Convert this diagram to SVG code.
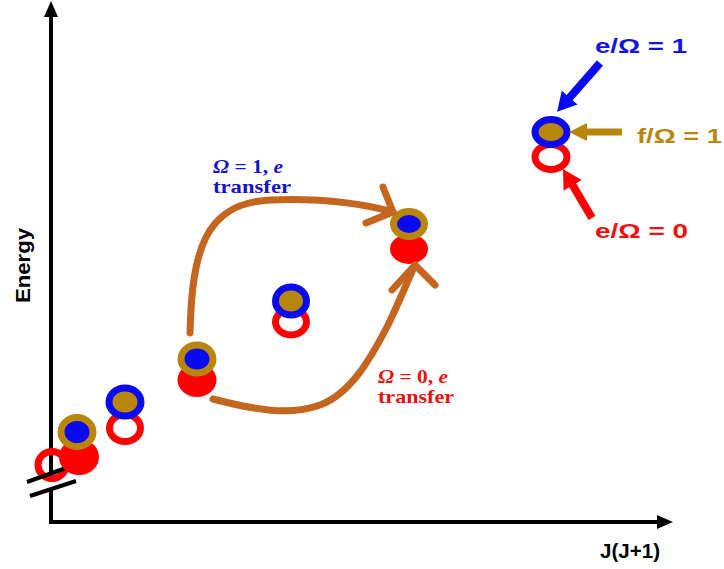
<svg xmlns="http://www.w3.org/2000/svg" width="724" height="569" viewBox="0 0 724 569">
<style>
.ax{stroke:#000;stroke-width:4;fill:none}
.curve{stroke:#C4661F;stroke-width:7;fill:none;stroke-linecap:round;stroke-linejoin:round}
.blueR{stroke:#0A0AF0;stroke-width:7;fill:#B8860B}
.goldR{stroke:#B8860B;stroke-width:7;fill:#0A0AF0}
.redR{stroke:#FF0000;stroke-width:7;fill:none}
.redF{fill:#FF0000}
.lab{font-family:"Liberation Sans",Arial,sans-serif;font-weight:bold}
.math{font-family:"Liberation Serif","Times New Roman",serif;font-weight:bold;font-size:19px}
</style>
<rect width="724" height="569" fill="#fff"/>
<g id="axes">
<line class="ax" x1="51" y1="14" x2="51" y2="475"/>
<line class="ax" x1="51" y1="489" x2="51" y2="524"/>
<polygon points="51,1 44,17 58,17" fill="#000"/>
<line class="ax" x1="49" y1="522" x2="660" y2="522"/>
<polygon points="673,522 657,515 657,529" fill="#000"/>
<text class="lab" font-size="21" transform="translate(30,303) rotate(-90)" textLength="75" lengthAdjust="spacingAndGlyphs">Energy</text>
<text class="lab" font-size="20" x="600" y="558" textLength="60" lengthAdjust="spacingAndGlyphs">J(J+1)</text>
</g>
<g id="n0">
<ellipse class="redR" cx="52" cy="465" rx="14" ry="13.5"/>
</g>
<g id="break">
<line x1="27" y1="482" x2="66" y2="468" stroke="#000" stroke-width="4"/>
<line x1="30" y1="496" x2="76" y2="481" stroke="#000" stroke-width="4"/>
</g>
<g id="n1">
<ellipse class="redF" cx="79" cy="457" rx="20" ry="18"/>
<ellipse class="goldR" cx="77" cy="432" rx="16" ry="14.5"/>
</g>
<g id="n2">
<ellipse class="redR" cx="125" cy="428" rx="15.5" ry="13.5"/>
<ellipse class="blueR" cx="125" cy="402" rx="16" ry="14"/>
</g>
<g id="n3">
<ellipse class="redF" cx="197" cy="380" rx="19.5" ry="17"/>
<ellipse class="goldR" cx="197" cy="359" rx="16" ry="14"/>
</g>
<g id="n4">
<ellipse class="redR" cx="291" cy="322" rx="15.5" ry="13"/>
<ellipse class="blueR" cx="291" cy="301" rx="15.5" ry="14"/>
</g>
<g id="n5">
<ellipse class="redF" cx="409" cy="249" rx="19" ry="15"/>
<ellipse class="goldR" cx="409" cy="224" rx="15.5" ry="12.5"/>
</g>
<g id="n6">
<ellipse class="redR" cx="551" cy="157" rx="16" ry="12.5" stroke-width="6"/>
<ellipse class="blueR" cx="551" cy="132" rx="16" ry="12.5" stroke-width="6"/>
</g>
<g id="connectors">
<path class="curve" d="M190,333 C192,250 205,203 270,200 C320,198 360,203 393,212"/>
<path class="curve" d="M383,187 L393,212 L366,223"/>
<path class="curve" d="M213,399 C255,410 290,416 320,405 C350,394 370,360 388,325 C400,300 408,280 415,265"/>
<path class="curve" d="M392,290 L415,265 L435,285"/>
<polygon fill="#0A0AF0" points="0,-4 46,-4 46,-10.5 65,0 46,10.5 46,4 0,4" transform="translate(600,63) rotate(131.3)"/>
<polygon fill="#B8860B" points="0,-3.5 35,-3.5 35,-9 53,0 35,9 35,3.5 0,3.5" transform="translate(622,132) rotate(180)"/>
<polygon fill="#FF0000" points="0,-4 38,-4 38,-10.5 57,0 38,10.5 38,4 0,4" transform="translate(592,218) rotate(-120.6)"/>
</g>
<g id="labels">
<text class="lab" font-size="21" x="595" y="53" fill="#1414E0" textLength="92" lengthAdjust="spacingAndGlyphs">e/Ω = 1</text>
<text class="lab" font-size="21" x="637" y="143" fill="#B8860B" textLength="85" lengthAdjust="spacingAndGlyphs">f/Ω = 1</text>
<text class="lab" font-size="21" x="595" y="238" fill="#F01010" textLength="93" lengthAdjust="spacingAndGlyphs">e/Ω = 0</text>
<text class="math" x="213" y="173" fill="#1414C8" textLength="70" lengthAdjust="spacingAndGlyphs"><tspan font-style="italic">Ω</tspan> = 1, <tspan font-style="italic">e</tspan></text>
<text class="math" x="213" y="193" fill="#1414C8" textLength="78" lengthAdjust="spacingAndGlyphs">transfer</text>
<text class="math" x="378" y="383" fill="#E81010" textLength="70" lengthAdjust="spacingAndGlyphs"><tspan font-style="italic">Ω</tspan> = 0, <tspan font-style="italic">e</tspan></text>
<text class="math" x="378" y="403" fill="#E81010" textLength="76" lengthAdjust="spacingAndGlyphs">transfer</text>
</g>
</svg>
